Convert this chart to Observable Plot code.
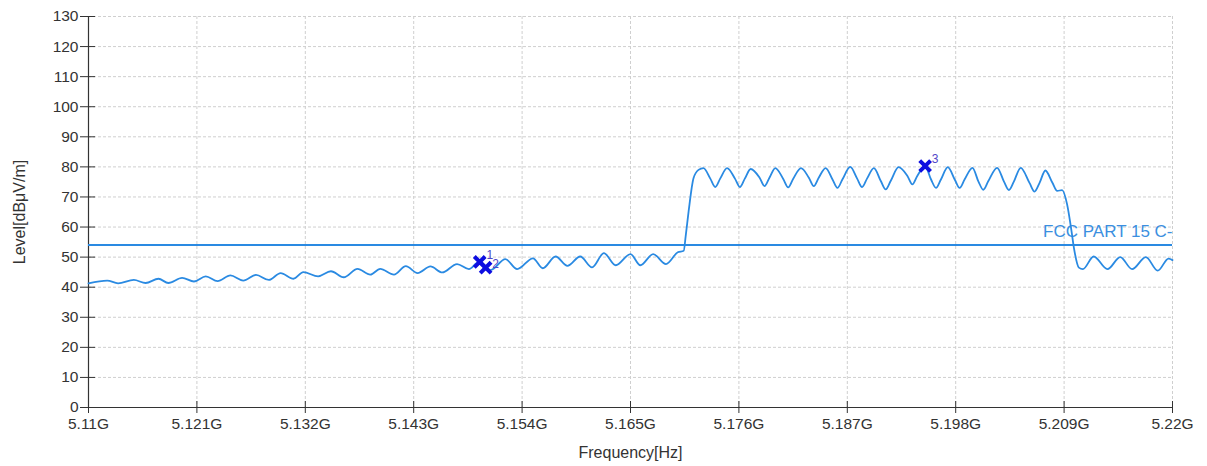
<!DOCTYPE html>
<html><head><meta charset="utf-8">
<script src="https://cdn.jsdelivr.net/npm/d3@7"></script>
<script src="https://cdn.jsdelivr.net/npm/@observablehq/plot@0.6"></script>
<style>body{margin:0;background:#fff} svg{display:block}</style>
</head><body><div id="chart"></div><script>
// Trace: frequency in MHz, level in dBµV/m
const freqMHz = [5110.0,5111.9,5113.0,5114.6,5115.8,5117.1,5118.1,5119.5,5120.7,5121.9,5123.1,5124.4,5125.7,5127.0,5128.3,5129.5,5130.8,5131.8,5133.3,5134.6,5135.9,5137.3,5138.6,5139.6,5141.0,5142.2,5143.4,5144.7,5145.9,5147.4,5148.6,5149.6,5150.8,5152.3,5153.5,5155.1,5156.1,5157.4,5158.6,5159.9,5161.1,5162.3,5163.5,5165.0,5166.0,5167.3,5168.6,5169.8,5170.4,5170.6,5170.9,5171.4,5171.9,5172.4,
  5173.1,5173.6,5174.1,5174.8,5175.6,5176.1,5176.6,5177.2,5178.1,5178.6,5179.1,5179.7,5180.5,5181.0,5181.5,5182.3,5183.1,5183.6,5184.1,5184.8,5185.5,5186.0,5186.5,5187.3,5188.0,5188.5,5189.0,5189.7,5190.4,5190.9,5191.4,5192.2,5193.1,5193.6,5194.1,5194.9,5195.5,5196.0,5196.5,5197.2,5197.9,5198.4,5198.9,5199.7,5200.3,5200.8,5201.3,5202.2,5202.9,5203.4,5203.9,5204.6,5205.5,5206.0,5206.5,5207.1,5207.8,5208.3,
  5208.8,5209.3,5209.7,5210.0,5210.5,5210.9,5212.0,5213.4,5214.7,5215.9,5217.3,5218.5,5219.6,5220.0];
const levelDb = [41.3,42.2,41.3,42.4,41.4,42.8,41.4,43.1,41.9,43.6,42.0,43.9,42.2,44.1,42.4,44.7,42.8,45.0,43.6,45.3,43.3,46.1,44.2,46.1,44.2,47.0,44.7,46.9,44.9,47.7,46.0,48.3,45.7,49.3,46.0,49.6,46.3,50.2,47.1,50.2,46.6,51.3,47.3,51.0,47.3,51.0,47.7,51.6,52.1,57.0,65.3,76.3,79.0,79.6,
  76.1,73.3,76.1,79.6,76.1,73.3,76.1,79.3,76.4,73.6,76.4,79.6,76.0,73.2,76.0,79.6,76.4,73.6,76.4,79.6,75.8,73.0,75.8,80.0,76.1,73.3,76.1,79.6,75.3,72.5,75.3,79.9,77.0,74.2,77.0,80.2,75.8,73.0,75.8,79.9,75.8,73.0,75.8,79.7,75.2,72.4,75.2,79.7,75.1,72.3,75.1,79.7,74.6,71.8,74.6,78.8,74.8,72.0,
  72.3,67.6,59.8,53.0,46.5,46.0,50.2,46.0,50.0,46.0,50.0,45.5,49.5,49.0];
const markerFreq = [5149.7, 5150.3, 5194.9];
const markerLevel = [48.4, 46.5, 80.3];
const markerLabel = ["1", "2", "3"];
const limitLevel = 54;
const limitLabel = "FCC PART 15 C-";
const xTicks = [5110,5121,5132,5143,5154,5165,5176,5187,5198,5209,5220];
const yTicks = [0,10,20,30,40,50,60,70,80,90,100,110,120,130];
const xTitle = "Frequency[Hz]";
const yTitle = "Level[dBμV/m]";

const trace = freqMHz.map((f, i) => ({f, v: levelDb[i]}));
const markers = markerFreq.map((f, i) => ({f, v: markerLevel[i], label: markerLabel[i]}));
const blue = "#2a8ae2";
const font = "'Liberation Sans', Arial, sans-serif";
const fmt = d => (d / 1000) + "G";

const chart = Plot.plot({
  width: 1207, height: 466,
  marginLeft: 88, marginRight: 35, marginTop: 16, marginBottom: 59,
  style: {fontFamily: font, background: "#fff", color: "#333"},
  x: {domain: [5110, 5220], ticks: xTicks, tickFormat: fmt},
  y: {domain: [0, 130], ticks: yTicks},
  marks: [
    Plot.gridX(xTicks, {stroke: "#cfcfcf", strokeOpacity: 1, strokeDasharray: "3,2"}),
    Plot.gridY(yTicks, {stroke: "#cfcfcf", strokeOpacity: 1, strokeDasharray: "3,2"}),
    Plot.axisY(yTicks, {anchor: "left", tickSize: 8, tickPadding: 2, fontSize: 15.5, label: null, stroke: "#333", fill: "#333"}),
    Plot.axisY(yTicks, {anchor: "left", tickSize: -7, text: null, label: null, stroke: "#333"}),
    Plot.axisX(xTicks, {anchor: "bottom", tickSize: 6, tickPadding: 4, fontSize: 15.5, label: null, stroke: "#333", fill: "#333", tickFormat: fmt}),
    Plot.axisX(xTicks, {anchor: "bottom", tickSize: -6, text: null, label: null, stroke: "#333"}),
    Plot.ruleX([5110], {stroke: "#333", strokeWidth: 1.2}),
    Plot.ruleY([0], {stroke: "#333", strokeWidth: 1.2}),
    Plot.ruleY([limitLevel], {stroke: blue, strokeWidth: 2}),
    Plot.text([{f: 5220, v: limitLevel}], {x: "f", y: "v", text: () => limitLabel, textAnchor: "end", dy: -14, fontSize: 17, fill: "#3b8fe0"}),
    Plot.line(trace, {x: "f", y: "v", stroke: blue, strokeWidth: 1.8, curve: "monotone-x"}),
    Plot.dot(markers, {x: "f", y: "v", symbol: "times", r: 5, stroke: "#0d0de0", strokeWidth: 4}),
    Plot.text(markers.filter(d => d.label !== "2"), {x: "f", y: "v", text: "label", dx: 10, dy: -7, fontSize: 12, fill: "#5046c8"}),
    Plot.text(markers.filter(d => d.label === "2"), {x: "f", y: "v", text: "label", dx: 10, dy: -3, fontSize: 12, fill: "#5046c8"}),
    Plot.text([yTitle], {frameAnchor: "left", textAnchor: "middle", lineAnchor: "middle", rotate: -90, dx: -69, fontSize: 16, fill: "#333"}),
    Plot.text([xTitle], {frameAnchor: "bottom", textAnchor: "middle", lineAnchor: "middle", dy: 45, fontSize: 16, fill: "#333"})
  ]
});
document.getElementById("chart").appendChild(chart);
</script></body></html>
